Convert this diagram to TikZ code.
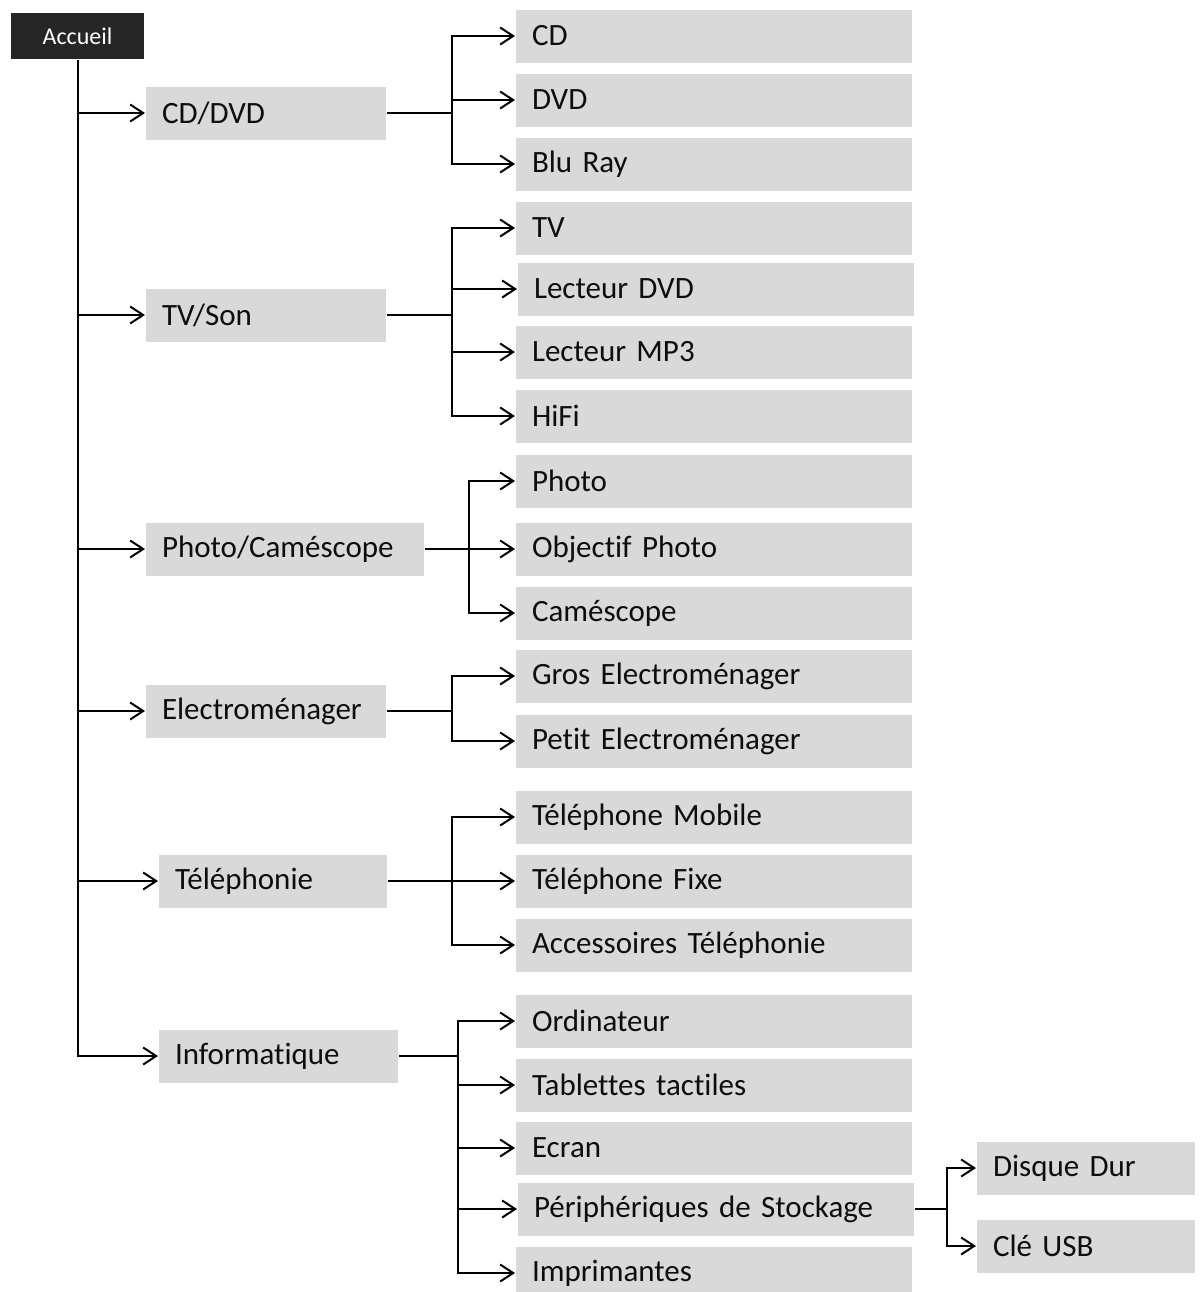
\documentclass[tikz,border=0pt]{standalone}
\usepackage{fontspec}
\setmainfont{Carlito}[Ligatures=NoCommon]
\usetikzlibrary{arrows.meta,positioning}
\definecolor{boxgray}{HTML}{D9D9D9}
\definecolor{rootfill}{HTML}{262626}
\definecolor{ink}{HTML}{0D0D0D}

\begin{document}
\begin{tikzpicture}[
  x=0.5pt, y=-0.5pt, line width=1pt, >={Straight Barb[length=6.5pt,width=8.5pt]},
  root/.style={fill=rootfill, text=white, font=\fontsize{12}{14}\selectfont,
               minimum width=66.5pt, minimum height=23pt, inner sep=0pt},
  box/.style={fill=boxgray, text=ink, anchor=west, align=left,
              font=\fontsize{15.5}{18}\selectfont, inner xsep=8pt, inner ysep=0pt,
              minimum height=26.5pt, text width=#1},
  box/.default=182pt
]
\useasboundingbox (0,0) rectangle (1201,1292);
\node[root] (accueil) at (77.5,36) {Accueil};
% main categories
\node[box=104pt] (cddvd) at (145,113) {CD/DVD};
\node[box=104pt] (tvson) at (145,315) {TV/Son};
\node[box=123pt] (photocam) at (145,549) {Photo/Caméscope};
\node[box=104pt] (electro) at (145,711) {Electroménager};
\node[box=98pt] (telephonie) at (158,881) {Téléphonie};
\node[box=103.5pt] (info) at (158,1056) {Informatique};
% sub categories
\node[box] (cd) at (515,36) {CD};
\node[box] (dvd) at (515,100) {DVD};
\node[box] (bluray) at (515,164) {Blu Ray};
\node[box] (tv) at (515,228) {TV};
\node[box] (lecdvd) at (517,289) {Lecteur DVD};
\node[box] (lecmp3) at (515,352) {Lecteur MP3};
\node[box] (hifi) at (515,416) {HiFi};
\node[box] (photo) at (515,481) {Photo};
\node[box] (objectif) at (515,549) {Objectif Photo};
\node[box] (camescope) at (515,613) {Caméscope};
\node[box] (gros) at (515,676) {Gros Electroménager};
\node[box] (petit) at (515,741) {Petit Electroménager};
\node[box] (mobile) at (515,817) {Téléphone Mobile};
\node[box] (fixe) at (515,881) {Téléphone Fixe};
\node[box] (access) at (515,945) {Accessoires Téléphonie};
\node[box] (ordi) at (515,1021) {Ordinateur};
\node[box] (tablettes) at (515,1085) {Tablettes tactiles};
\node[box] (ecran) at (515,1148) {Ecran};
\node[box] (periph) at (517,1209) {Périphériques de Stockage};
\node[box] (imprim) at (515,1273) {Imprimantes};
\node[box=93pt] (disque) at (976,1168) {Disque Dur};
\node[box=93pt] (cle) at (976,1246) {Clé USB};
% trunk
\draw[->] (accueil.south) |- (cddvd.west);
\draw[->] (accueil.south) |- (tvson.west);
\draw[->] (accueil.south) |- (photocam.west);
\draw[->] (accueil.south) |- (electro.west);
\draw[->] (accueil.south) |- (telephonie.west);
\draw[->] (accueil.south) |- (info.west);
% branches
\draw (cddvd.east) -- ++(65,0) coordinate (cdbus);
\draw[->] (cdbus) |- (cd.west);
\draw[->] (cdbus) |- (dvd.west);
\draw[->] (cdbus) |- (bluray.west);
\draw (tvson.east) -- ++(65,0) coordinate (tvbus);
\draw[->] (tvbus) |- (tv.west);
\draw[->] (tvbus) |- (lecdvd.west);
\draw[->] (tvbus) |- (lecmp3.west);
\draw[->] (tvbus) |- (hifi.west);
\draw (photocam.east) -- ++(44,0) coordinate (photobus);
\draw[->] (photobus) |- (photo.west);
\draw[->] (photobus) |- (objectif.west);
\draw[->] (photobus) |- (camescope.west);
\draw (electro.east) -- ++(65,0) coordinate (electrobus);
\draw[->] (electrobus) |- (gros.west);
\draw[->] (electrobus) |- (petit.west);
\draw (telephonie.east) -- ++(64,0) coordinate (telbus);
\draw[->] (telbus) |- (mobile.west);
\draw[->] (telbus) |- (fixe.west);
\draw[->] (telbus) |- (access.west);
\draw (info.east) -- ++(59,0) coordinate (infobus);
\draw[->] (infobus) |- (ordi.west);
\draw[->] (infobus) |- (tablettes.west);
\draw[->] (infobus) |- (ecran.west);
\draw[->] (infobus) |- (periph.west);
\draw[->] (infobus) |- (imprim.west);
\draw (periph.east) -- ++(32,0) coordinate (stockbus);
\draw[->] (stockbus) |- (disque.west);
\draw[->] (stockbus) |- (cle.west);
\end{tikzpicture}
\end{document}
